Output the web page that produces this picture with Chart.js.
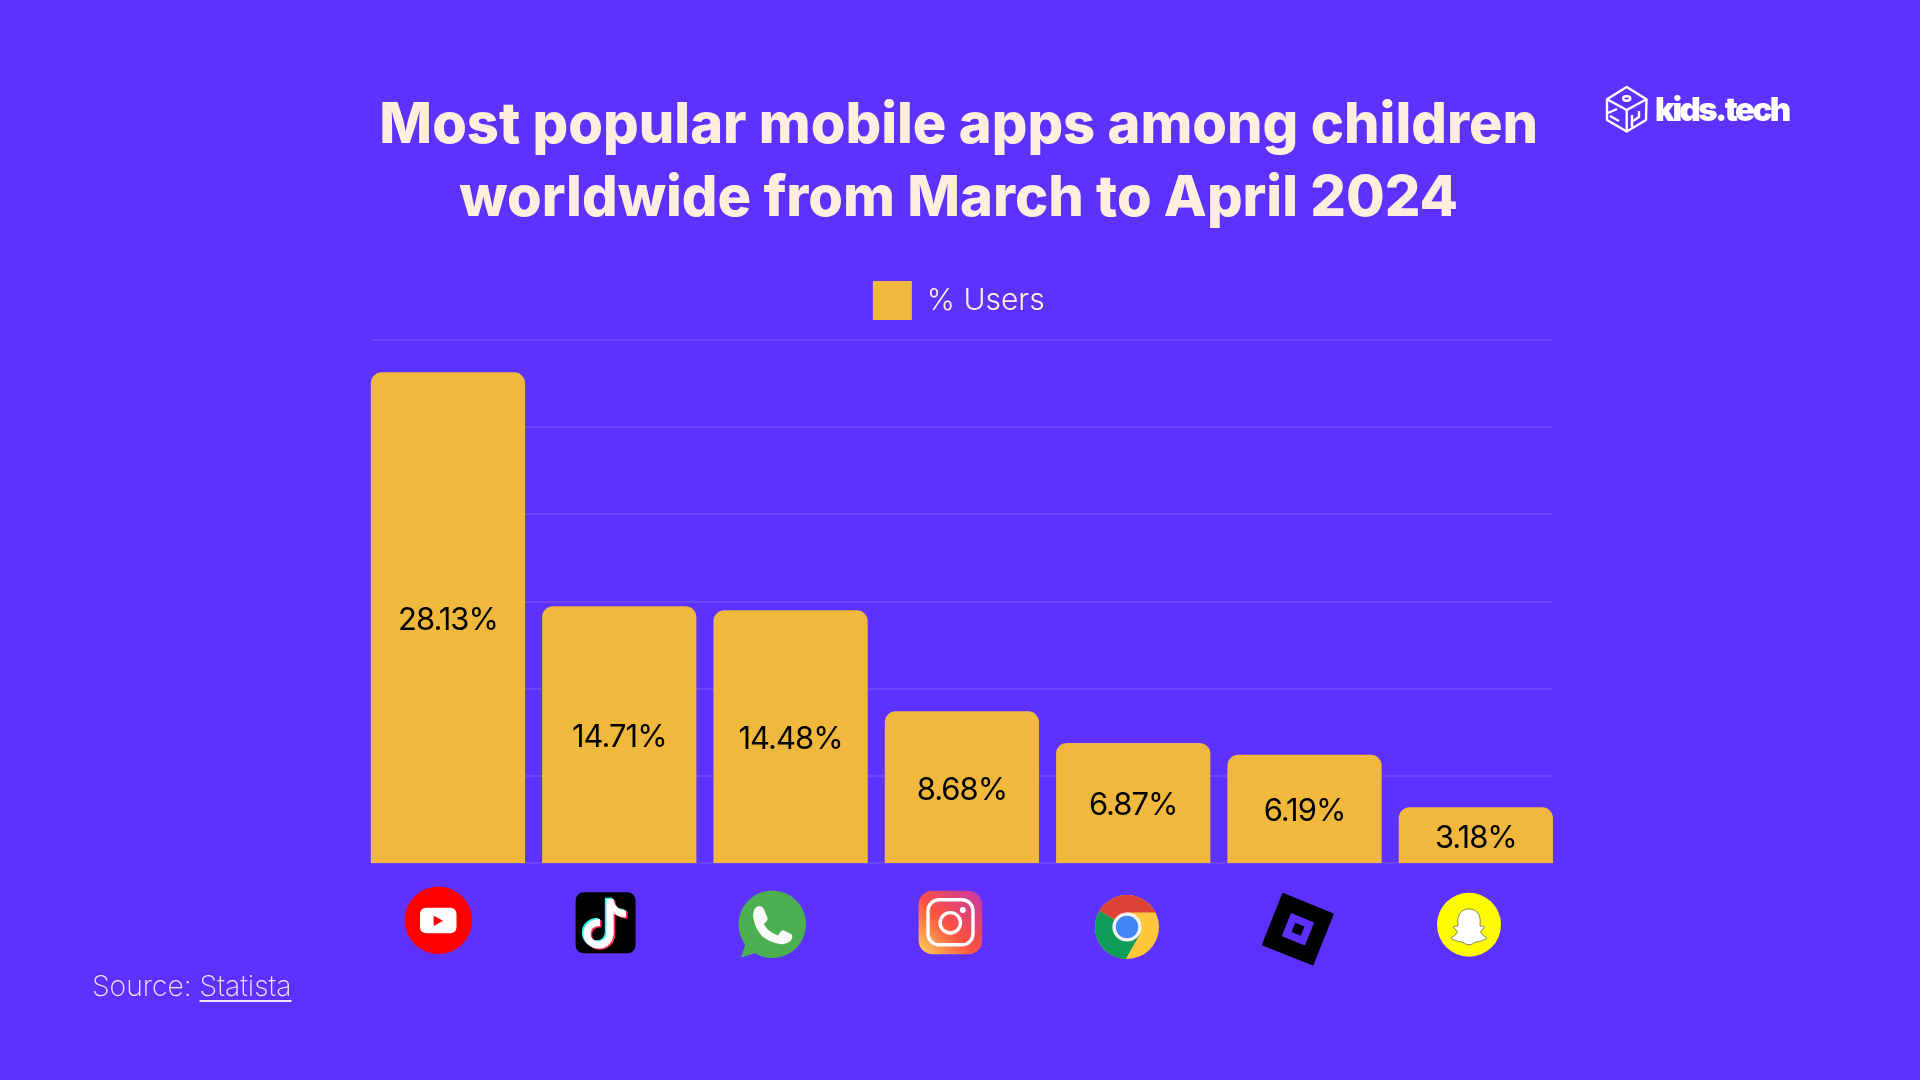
<!DOCTYPE html>
<html>
<head>
<meta charset="utf-8">
<title>Most popular mobile apps among children</title>
<script src="https://cdn.jsdelivr.net/npm/chart.js@4"></script>
<style>
  html, body { margin: 0; padding: 0; background: #5d32ff; }
  #stage { position: relative; width: 1920px; height: 1080px; overflow: hidden; background: #5d32ff; }
  #chart { position: absolute; left: 0; top: 0; }
  #icons { position: absolute; left: 0; top: 0; }
  #source {
    position: absolute; left: 92px; top: 969px;
    font: 200 28.3px "Inter", sans-serif; color: #f3e4f4;
  }
  #source a { color: inherit; text-decoration: underline; text-underline-offset: 4px; text-decoration-thickness: 2px; }
  #brand {
    position: absolute; left: 1655px; top: 89px;
    font: 900 33px "Inter", sans-serif; letter-spacing: -2.6px; color: #fff;
  }
</style>
</head>
<body>
<div id="stage">
  <canvas id="chart" width="1920" height="1080"></canvas>

  <svg id="icons" width="1920" height="1080" viewBox="0 0 1920 1080">
    <defs>
      <linearGradient id="igGrad" x1="0" y1="1" x2="1" y2="0">
        <stop offset="0" stop-color="#fdd55a"/>
        <stop offset="0.45" stop-color="#fb5240"/>
        <stop offset="1" stop-color="#c436ab"/>
      </linearGradient>
    </defs>

    <!-- brand cube -->
    <g fill="none" stroke="#fff" stroke-width="2.4" stroke-linejoin="round">
      <path d="M1626.7 87 L1646.5 99.3 L1646 120 L1626.7 131.5 L1607 120 L1607 99.3 Z"/>
      <path d="M1607 99.3 L1626.7 110 L1646.5 99.3 M1626.7 110 V131.5"/>
      <ellipse cx="1626.7" cy="98.5" rx="3.6" ry="2.2"/>
      <path d="M1608 113 L1617 109 M1610 116 L1619 121"/>
      <path d="M1632 115 V127 M1639 111 V117 L1633 121"/>
    </g>

    <!-- YouTube -->
    <circle cx="438.4" cy="920.3" r="33.8" fill="#ff0000"/>
    <rect x="420" y="907.7" width="36.5" height="25.6" rx="6" fill="#fff"/>
    <path d="M433.6 915.7 L443.2 920.8 L433.6 926 Z" fill="#ff0000"/>

    <!-- TikTok -->
    <rect x="575.6" y="892.3" width="60" height="61" rx="8" fill="#000"/>
    <g fill="none" stroke-width="7.2">
      <path d="M610 899 V933 C610 941 604 945 598.5 945 C592 945 587 940 587 934 C587 927 592 922.5 600 922.5 M610 899 C610.5 908 617 913.5 626 914" stroke="#25f4ee" transform="translate(-1.6,-1.2)"/>
      <path d="M610 899 V933 C610 941 604 945 598.5 945 C592 945 587 940 587 934 C587 927 592 922.5 600 922.5 M610 899 C610.5 908 617 913.5 626 914" stroke="#fe2c55" transform="translate(1.6,1.2)"/>
      <path d="M610 899 V933 C610 941 604 945 598.5 945 C592 945 587 940 587 934 C587 927 592 922.5 600 922.5 M610 899 C610.5 908 617 913.5 626 914" stroke="#fff"/>
    </g>

    <!-- WhatsApp -->
    <circle cx="772.3" cy="924.3" r="33.8" fill="#4caf50"/>
    <path d="M746 942 L741 957.5 L757 952.5 Z" fill="#4caf50"/>
    <path d="M753 915 Q753.5 907 759 906 Q762.5 906 764 909.5 L767.6 918 Q768 921 763.8 924 Q768 932 778 935.5 Q781 930 783.5 930.2 L792 934.5 Q793 938 790.5 941 Q786 945 780 944 Q770 942.5 762.7 936.7 Q754 928 753 915 Z" fill="#fafafa"/>

    <!-- Instagram -->
    <rect x="918.6" y="890.7" width="63.6" height="63.6" rx="14" fill="url(#igGrad)"/>
    <rect x="928" y="899.8" width="45" height="45" rx="11" fill="none" stroke="#fff" stroke-width="3.4"/>
    <circle cx="950.3" cy="922.8" r="10.2" fill="none" stroke="#fff" stroke-width="3.4"/>
    <circle cx="962.8" cy="910" r="2.9" fill="#fff"/>

    <!-- Chrome -->
    <circle cx="1127" cy="927" r="32" fill="#ffc73c"/>
    <path d="M1127 927 L1099.5 910.7 A32 32 0 0 1 1155.5 912.6 L1127 912.6 Z" fill="#dd4437"/>
    <path d="M1127 927 L1099.5 910.7 A32 32 0 0 0 1125.8 959 L1140 934 Z" fill="#0f9d58"/>
    <circle cx="1127" cy="927" r="14.6" fill="#f1f3f4"/>
    <circle cx="1127" cy="927" r="11.2" fill="#4285f4"/>

    <!-- Roblox -->
    <path fill="#000" stroke="#000" stroke-width="2" stroke-linejoin="round"
      d="M1283 894 L1332.6 914.3 L1312.6 964.4 L1263 944.6 Z"/>
    <path fill="#5d32ff" stroke="#5d32ff" stroke-width="3" stroke-linejoin="round"
      d="M1291.9 914.9 L1312.3 923.3 L1304.1 943.7 L1283.7 935.3 Z"/>
    <path fill="#000" d="M1295.3 922.8 L1304.5 926.6 L1300.7 935.8 L1291.5 932 Z"/>

    <!-- Snapchat -->
    <circle cx="1469" cy="924.7" r="32" fill="#fffc00"/>
    <path d="M1469 909 C1476 909 1480.2 914 1480.2 921 L1480 926 C1482 926.5 1484 926 1484.5 927 C1485 928.5 1481.5 929.5 1480.5 931 C1481 934 1484 936.5 1486.5 937.5 C1487 939.5 1483.5 940 1481.5 940.5 C1480.5 942.5 1478.5 941 1476 942 C1473.5 943 1472 944.8 1469 944.8 C1466 944.8 1464.5 943 1462 942 C1459.5 941 1457.5 942.5 1456.5 940.5 C1454.5 940 1451 939.5 1451.5 937.5 C1454 936.5 1457 934 1457.5 931 C1456.5 929.5 1453 928.5 1453.5 927 C1454 926 1456 926.5 1458 926 L1457.8 921 C1457.8 914 1462 909 1469 909 Z" fill="#fff" stroke="#555" stroke-width="0.7"/>
  </svg>

  <div id="brand">kids.tech</div>
  <div id="source">Source: <a href="https://www.statista.com">Statista</a></div>
</div>

<script>
const appNames = ["YouTube", "TikTok", "WhatsApp", "Instagram", "Chrome", "Roblox", "Snapchat"];
const userShare = [28.13, 14.71, 14.48, 8.68, 6.87, 6.19, 3.18];
const titleLines = ["Most popular mobile apps among children", "worldwide from March to April 2024"];
const seriesName = "% Users";

const cream = "#fdeedd";
const barColor = "#f0b93d";

// horizontal rules that stop at the outer edges of the first and last bar
const barGrid = {
  id: "barGrid",
  beforeDatasetsDraw(chart) {
    const bars = chart.getDatasetMeta(0).data;
    const left = bars[0].x - bars[0].width / 2;
    const right = bars[bars.length - 1].x + bars[bars.length - 1].width / 2;
    const y = chart.scales.y;
    const ctx = chart.ctx;
    ctx.save();
    ctx.strokeStyle = "rgba(255,255,255,0.13)";
    ctx.lineWidth = 1.5;
    y.ticks.forEach((tick) => {
      const py = Math.round(y.getPixelForValue(tick.value));
      ctx.beginPath();
      ctx.moveTo(left, py);
      ctx.lineTo(right, py);
      ctx.stroke();
    });
    ctx.restore();
  },
};

// value printed in the middle of each bar
const barValues = {
  id: "barValues",
  afterDatasetsDraw(chart) {
    const ctx = chart.ctx;
    ctx.save();
    ctx.font = '400 31px "Inter", sans-serif';
    ctx.letterSpacing = "-1px";
    ctx.fillStyle = "#000";
    ctx.textAlign = "center";
    ctx.textBaseline = "middle";
    chart.getDatasetMeta(0).data.forEach((bar, i) => {
      ctx.fillText(userShare[i].toFixed(2) + "%", bar.x, (bar.y + bar.base) / 2 + 3);
    });
    ctx.restore();
  },
};

new Chart(document.getElementById("chart"), {
  type: "bar",
  data: {
    labels: appNames,
    datasets: [
      {
        label: seriesName,
        data: userShare,
        backgroundColor: barColor,
        borderRadius: { topLeft: 11, topRight: 11, bottomLeft: 0, bottomRight: 0 },
        borderSkipped: false,
        barThickness: 153.6,
      },
    ],
  },
  plugins: [barGrid, barValues],
  options: {
    responsive: false,
    animation: false,
    layout: { padding: { top: 89, left: 356, right: 358.5, bottom: 217 } },
    scales: {
      // no visible axis, the icons under the bars name the apps; the empty
      // band on top keeps the bars clear of the legend
      x: {
        position: "top",
        ticks: { display: false },
        grid: { display: false },
        border: { display: false },
        afterFit(scale) {
          scale.height = 10;
        },
      },
      y: {
        min: 0,
        max: 30,
        ticks: { stepSize: 5, display: false },
        grid: { display: false },
        border: { display: false },
        afterFit(scale) {
          scale.width = 6.3;
        },
      },
    },
    plugins: {
      tooltip: { enabled: false },
      title: {
        display: true,
        text: titleLines,
        color: cream,
        font: { family: "Inter", size: 56, weight: "800", lineHeight: 1.3125 },
        padding: { top: 0, bottom: 16 },
      },
      legend: {
        display: true,
        position: "top",
        labels: {
          boxWidth: 39,
          boxHeight: 39,
          padding: 29,
          color: cream,
          font: { family: "Inter", size: 30, weight: "300" },
        },
      },
    },
  },
});
</script>
</body>
</html>
